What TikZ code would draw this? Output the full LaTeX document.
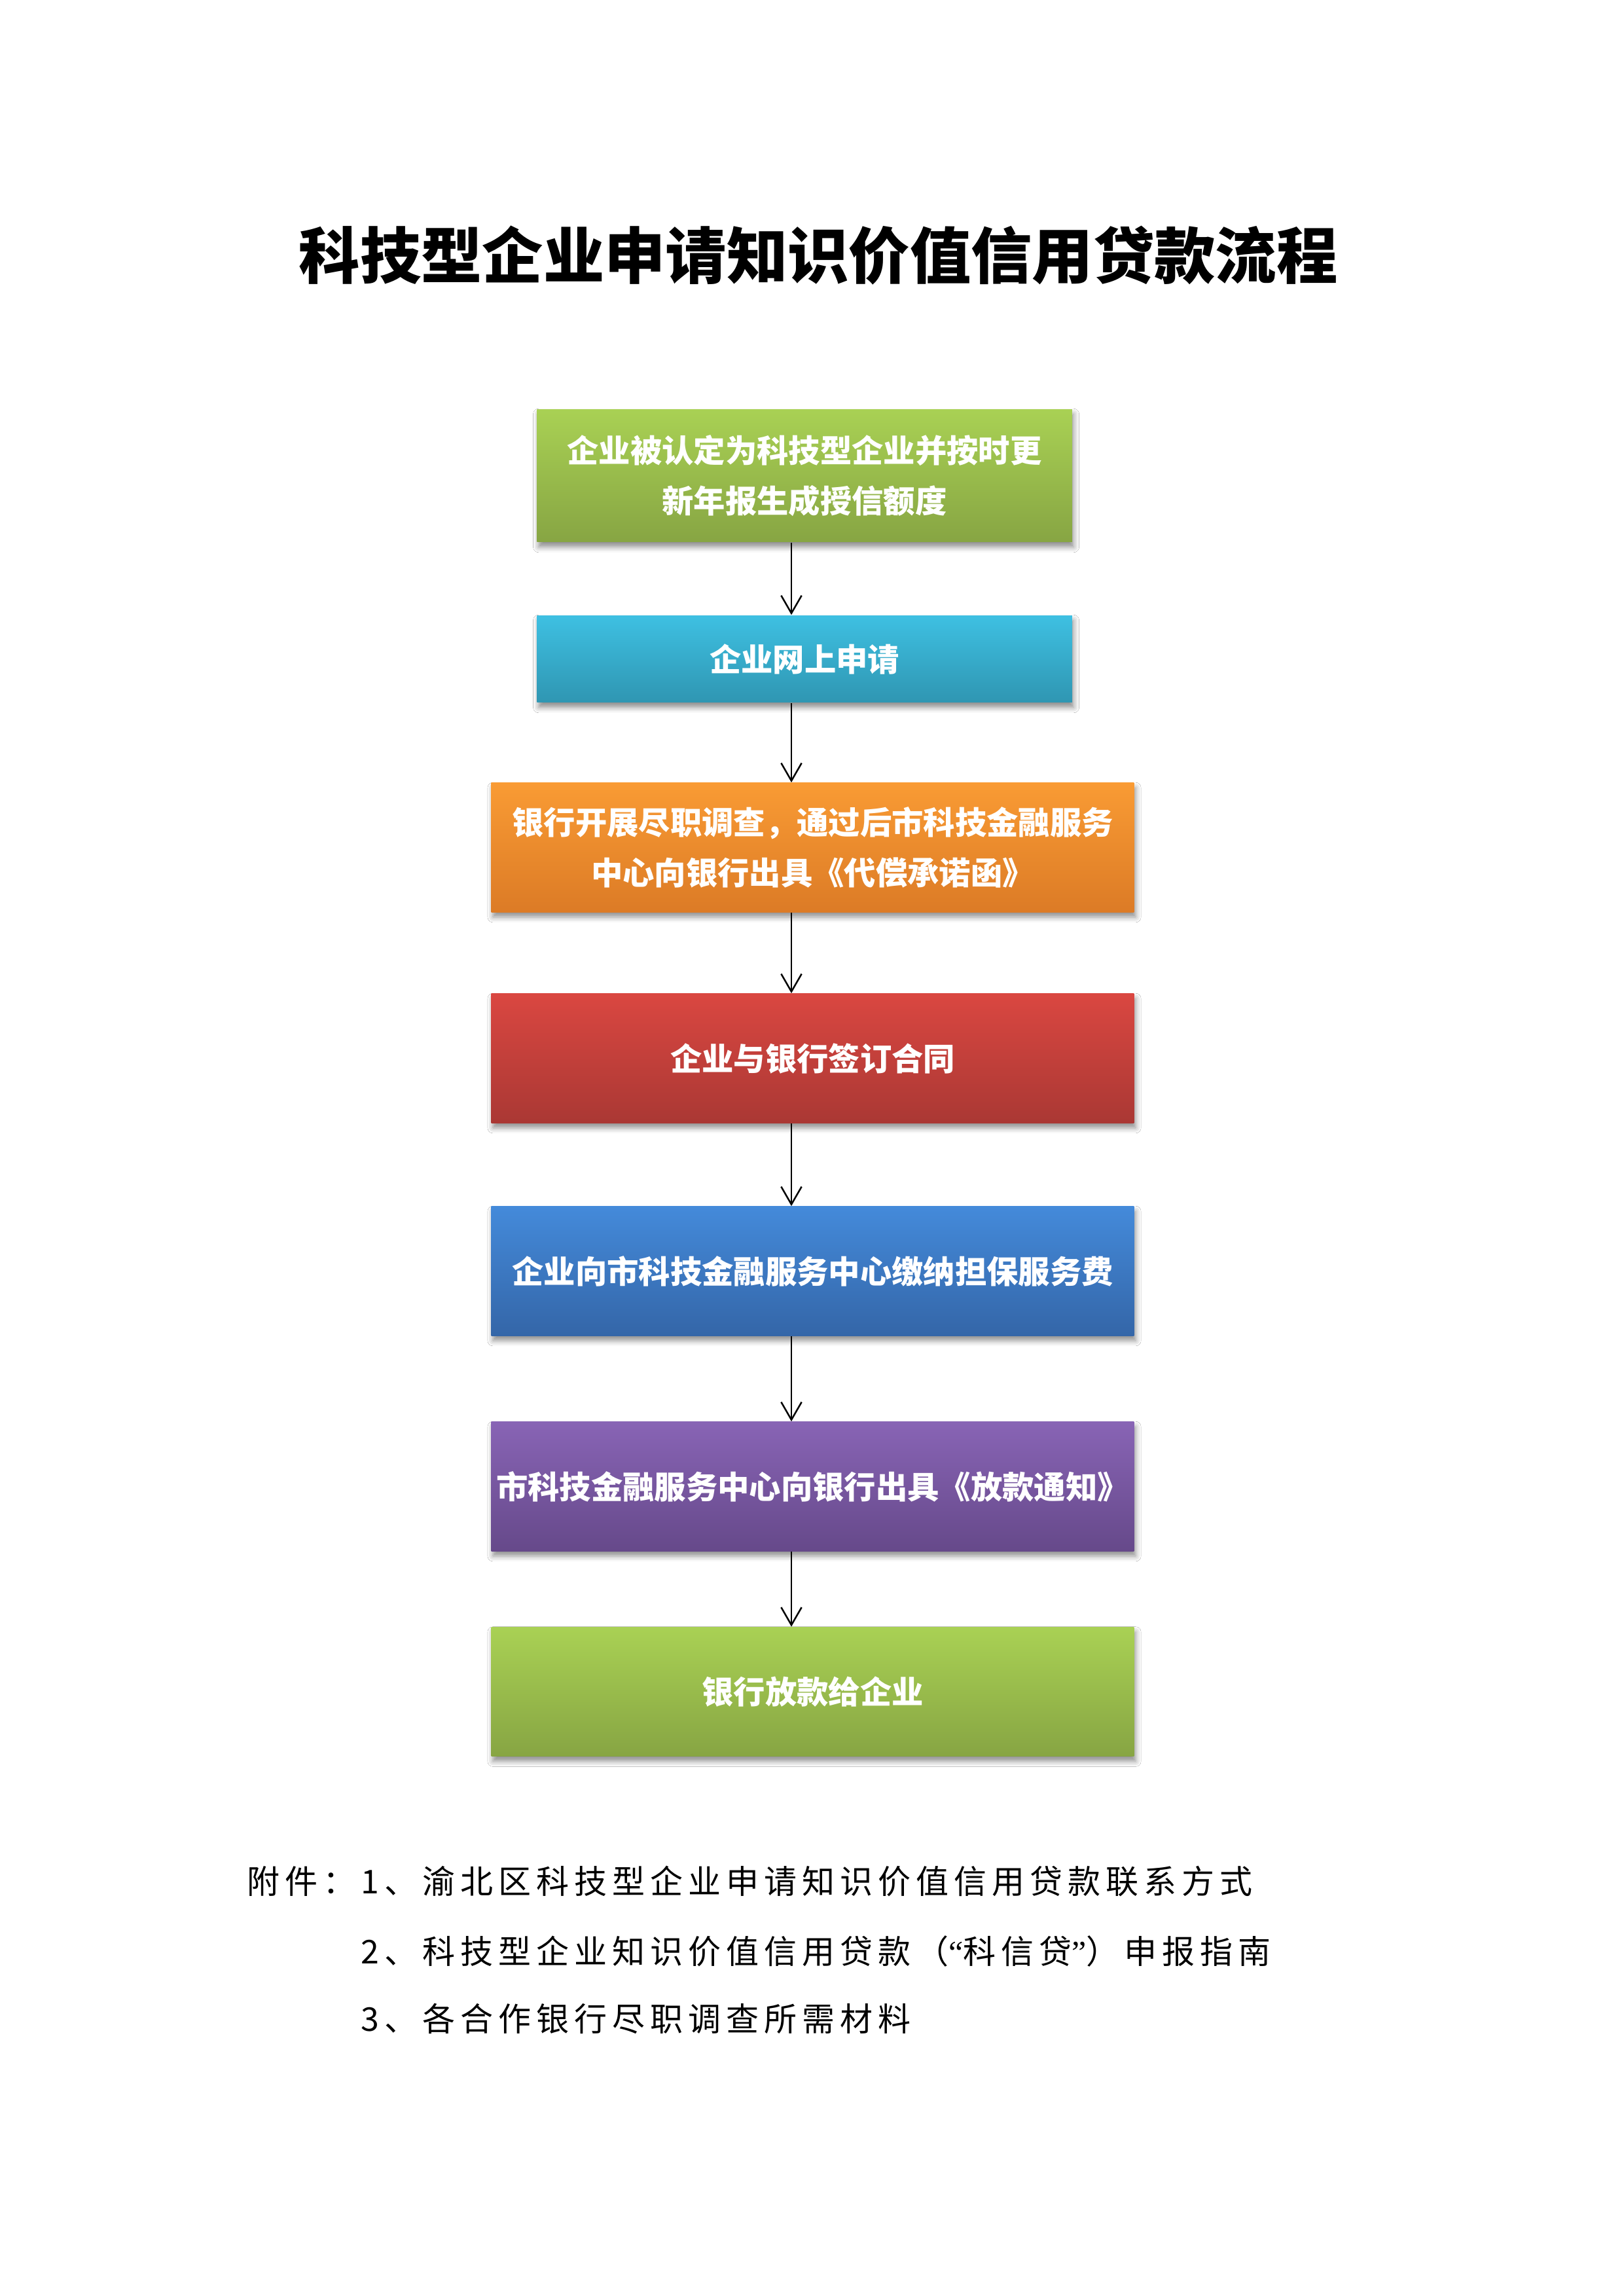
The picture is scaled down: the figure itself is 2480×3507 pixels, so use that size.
\documentclass[tikz,border=0pt]{standalone}
\usepackage{fontspec}
\newfontfamily\cjk{Noto Sans CJK SC}
\newfontfamily\cjkls[LetterSpace=16]{Noto Sans CJK SC}
\newfontfamily\latq{Liberation Serif}
\usetikzlibrary{arrows.meta,shadows.blur}
\definecolor{gtop}{RGB}{169,209,84}
\definecolor{gbot}{RGB}{135,165,67}
\definecolor{ctop}{RGB}{62,192,226}
\definecolor{cbot}{RGB}{47,150,178}
\definecolor{otop}{RGB}{249,155,52}
\definecolor{obot}{RGB}{220,123,38}
\definecolor{rtop}{RGB}{218,71,65}
\definecolor{rbot}{RGB}{170,56,52}
\definecolor{btop}{RGB}{68,138,218}
\definecolor{bbot}{RGB}{52,102,168}
\definecolor{ptop}{RGB}{136,100,181}
\definecolor{pbot}{RGB}{102,73,138}
\begin{document}
\begin{tikzpicture}[x=0.24pt,y=-0.24pt,
  box/.style={rectangle, inner sep=0pt, align=center, text=white,
    font=\cjk\bfseries\fontsize{11.6}{18.5}\selectfont,
    blur shadow={shadow xshift=0.6pt, shadow yshift=-1.8pt, shadow blur radius=2pt, shadow opacity=45}},
  narrow/.style={box, minimum width=196.2pt},
  wide/.style={box, minimum width=235.6pt, minimum height=47.3pt},
  flow/.style={draw=black, line width=0.6pt, -{Straight Barb[length=6.5pt,width=7.5pt]}},
  note/.style={anchor=west, inner sep=0pt, font=\cjkls\fontsize{12}{12}\selectfont},
  titlestyle/.style={inner sep=0pt, font=\cjk\bfseries\fontsize{22.4}{22.4}\selectfont}]
\useasboundingbox[fill=white] (0,0) rectangle (2480,3507);

\node[titlestyle] (title) at (1250,390) {科技型企业申请知识价值信用贷款流程};

\node[narrow, minimum height=48.7pt, top color=gtop, bottom color=gbot] (b1) at (1229,726.5)
  {企业被认定为科技型企业并按时更\\新年报生成授信额度};
\node[narrow, minimum height=31.9pt, top color=ctop, bottom color=cbot] (b2) at (1229,1006.5)
  {企业网上申请};
\node[wide, top color=otop, bottom color=obot] (b3) at (1241.5,1294.5)
  {银行开展尽职调查，通过后市科技金融服务\\中心向银行出具《代偿承诺函》};
\node[wide, top color=rtop, bottom color=rbot] (b4) at (1241.5,1616.5)
  {企业与银行签订合同};
\node[wide, top color=btop, bottom color=bbot] (b5) at (1241.5,1941.5)
  {企业向市科技金融服务中心缴纳担保服务费};
\node[wide, top color=ptop, bottom color=pbot] (b6) at (1241.5,2270.5)
  {市科技金融服务中心向银行出具《放款通知》};
\node[wide, top color=gtop, bottom color=gbot] (b7) at (1241.5,2584)
  {银行放款给企业};

\coordinate (ax) at (1209,0);
\draw[flow] (b1.south -| ax) -- (b2.north -| ax);
\draw[flow] (b2.south -| ax) -- (b3.north -| ax);
\draw[flow] (b3.south -| ax) -- (b4.north -| ax);
\draw[flow] (b4.south -| ax) -- (b5.north -| ax);
\draw[flow] (b5.south -| ax) -- (b6.north -| ax);
\draw[flow] (b6.south -| ax) -- (b7.north -| ax);

\node[note] (n1) at (377,2873) {附件：1、渝北区科技型企业申请知识价值信用贷款联系方式};
\node[note] (n2) at (551,2980) {2、科技型企业知识价值信用贷款（{\latq“}科信贷{\latq”}）申报指南};
\node[note] (n3) at (551,3083) {3、各合作银行尽职调查所需材料};
\end{tikzpicture}
\end{document}
